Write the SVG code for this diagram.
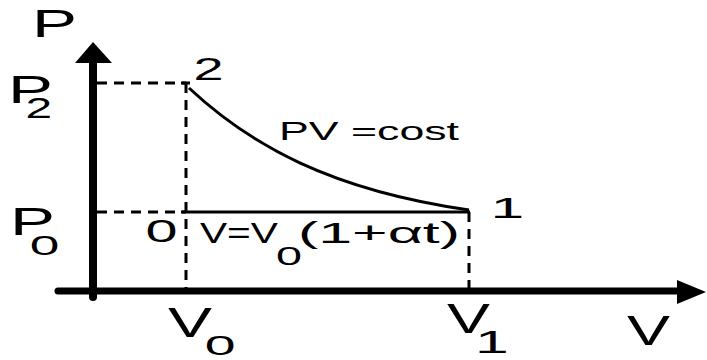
<svg xmlns="http://www.w3.org/2000/svg" width="707" height="360" viewBox="0 0 707 360">
<style>
text{font-family:"Liberation Sans",Arial,sans-serif;fill:#000}
.dash{stroke:#000;stroke-width:3;stroke-dasharray:10 7;fill:none}
.solid{stroke:#000;stroke-width:3;fill:none}
</style>
<rect width="707" height="360" fill="#fff"/>
<g id="axes">
<line x1="93" y1="58" x2="93" y2="297" stroke="#000" stroke-width="8" stroke-linecap="round"/>
<polygon points="93,42 75,63 112,63" fill="#000"/>
<line x1="58" y1="291" x2="682" y2="291" stroke="#000" stroke-width="7" stroke-linecap="round"/>
<polygon points="706,292 677,280 677,304" fill="#000"/>
</g>
<g id="connectors">
<line class="dash" x1="97" y1="83" x2="186" y2="83"/>
<line class="dash" x1="97" y1="212" x2="186" y2="212"/>
<line class="dash" x1="186" y1="83" x2="186" y2="290"/>
<line class="dash" x1="469" y1="212" x2="469" y2="290"/>
<line class="solid" x1="181" y1="83" x2="190" y2="83"/>
<line class="solid" x1="181" y1="212" x2="470" y2="212"/>
<path class="solid" d="M189,88 C250,145 330,190 469,210"/>
</g>
<g id="labels">
<text x="32" y="37" font-size="38" textLength="45" lengthAdjust="spacingAndGlyphs">P</text>
<text x="8" y="103" font-size="39" textLength="45" lengthAdjust="spacingAndGlyphs">P</text>
<text x="25.6" y="118" font-size="29" textLength="26.6" lengthAdjust="spacingAndGlyphs">2</text>
<text x="10" y="235" font-size="39" textLength="45" lengthAdjust="spacingAndGlyphs">P</text>
<text x="29.8" y="255" font-size="28" textLength="29.6" lengthAdjust="spacingAndGlyphs">0</text>
<text x="193.4" y="80" font-size="32" textLength="30" lengthAdjust="spacingAndGlyphs">2</text>
<text x="279" y="140" font-size="25" textLength="180" lengthAdjust="spacingAndGlyphs">PV =cost</text>
<text x="490.4" y="218" font-size="30" textLength="33.7" lengthAdjust="spacingAndGlyphs">1</text>
<text x="145.6" y="242" font-size="31" textLength="32" lengthAdjust="spacingAndGlyphs">0</text>
<text x="200" y="243" font-size="29" textLength="78" lengthAdjust="spacingAndGlyphs">V=V</text>
<text x="276" y="265" font-size="26" textLength="26" lengthAdjust="spacingAndGlyphs">0</text>
<text x="298" y="243" font-size="29" textLength="162" lengthAdjust="spacingAndGlyphs">(1+αt)</text>
<text x="168" y="337" font-size="43" textLength="44" lengthAdjust="spacingAndGlyphs">V</text>
<text x="204.7" y="355" font-size="28" textLength="30.8" lengthAdjust="spacingAndGlyphs">0</text>
<text x="447" y="333" font-size="42" textLength="43" lengthAdjust="spacingAndGlyphs">V</text>
<text x="475" y="353" font-size="32" textLength="33.7" lengthAdjust="spacingAndGlyphs">1</text>
<text x="627" y="345" font-size="42" textLength="43" lengthAdjust="spacingAndGlyphs">V</text>
</g>
</svg>
